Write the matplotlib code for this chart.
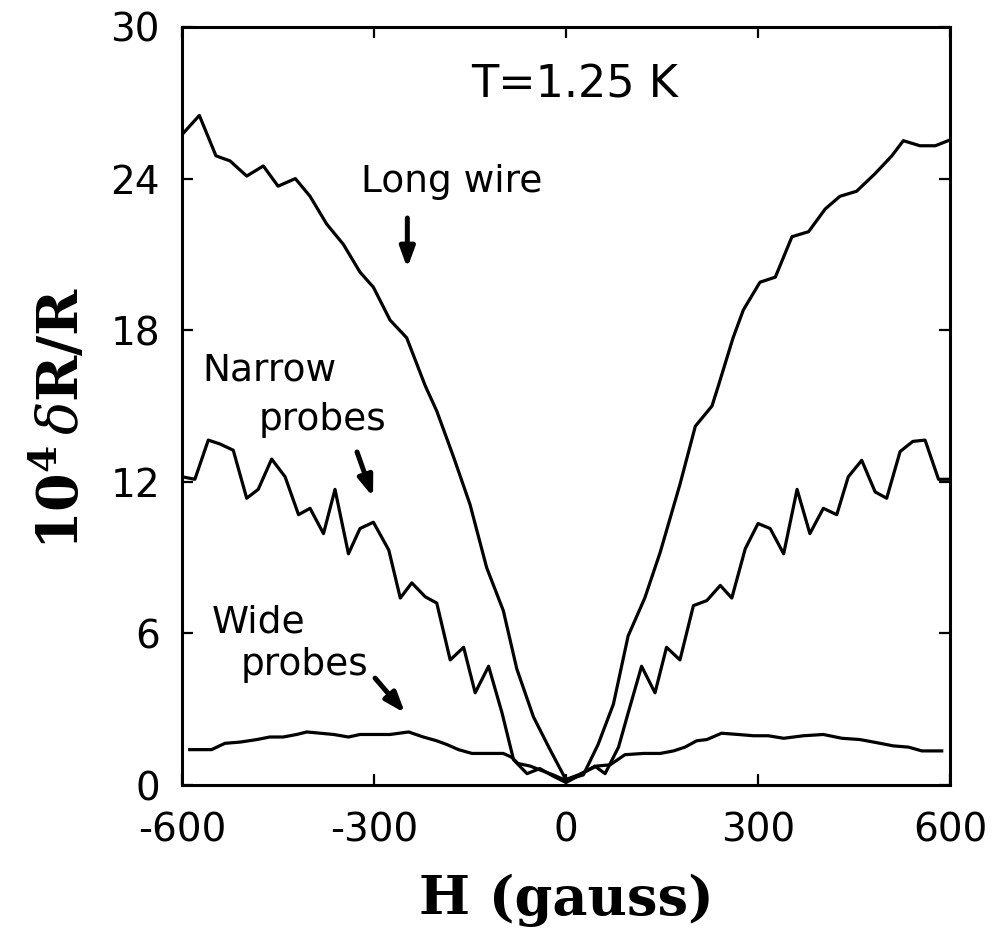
# magnetoresistance of the long wire vs. narrow / wide probes at T=1.25 K

import matplotlib
matplotlib.use("Agg")
import matplotlib.pyplot as plt

# long wire
h_long = [-598, -573, -547, -525, -499, -473, -450, -423, -400, -374, -348, -322,
          -301, -275, -249, -220, -202, -176, -150, -124, -98, -77, -51, -25, 0,
          27, 50, 74, 97, 123, 147, 178, 202, 228, 238, 261, 277, 303, 327, 353,
          379, 405, 428, 454, 483, 509, 527, 553, 577, 597]
r_long = [25.8, 26.5, 24.9, 24.7, 24.1, 24.5, 23.7, 24.0, 23.3, 22.2, 21.4, 20.3,
          19.7, 18.4, 17.7, 15.8, 14.8, 13.0, 11.1, 8.6, 6.9, 4.6, 2.7, 1.4, 0.2,
          0.4, 1.6, 3.2, 5.9, 7.4, 9.2, 11.9, 14.2, 15.0, 15.8, 17.7, 18.8, 19.9,
          20.1, 21.7, 21.9, 22.8, 23.3, 23.5, 24.2, 24.9, 25.5, 25.3, 25.3, 25.5]

# narrow probes
h_narrow = [-600, -580, -559, -541, -520, -499, -481, -460, -439, -418, -400, -379,
            -361, -340, -322, -301, -277, -259, -241, -220, -202, -181, -160, -142,
            -121, -100, -82, -61, -41, -20, 0, 22, 45, 61, 82, 97, 118, 139, 157,
            178, 199, 220, 241, 259, 280, 300, 319, 340, 361, 381, 402, 423, 441,
            462, 483, 501, 522, 542, 561, 582, 600]
r_narrow = [12.2, 12.1, 13.65, 13.5, 13.25, 11.35, 11.7, 12.9, 12.2, 10.7, 10.95,
            9.95, 11.7, 9.15, 10.15, 10.4, 9.3, 7.4, 8.0, 7.45, 7.2, 4.95, 5.45,
            3.65, 4.7, 2.85, 1.0, 0.45, 0.65, 0.35, 0.1, 0.4, 0.75, 0.45, 1.5, 2.85,
            4.7, 3.65, 5.45, 4.95, 7.1, 7.3, 7.9, 7.4, 9.35, 10.35, 10.15, 9.15,
            11.7, 9.95, 10.95, 10.7, 12.2, 12.85, 11.6, 11.35, 13.2, 13.6, 13.65,
            12.1, 12.1]

# wide probes
h_wide = [-588, -554, -533, -509, -483, -463, -442, -421, -405, -384, -363, -340,
          -322, -301, -275, -246, -223, -202, -186, -168, -147, -124, -98, -85, -75,
          -56, -41, -20, -2, 19, 48, 69, 92, 121, 147, 168, 186, 204, 220, 243, 269,
          293, 316, 340, 371, 402, 431, 459, 491, 511, 535, 556, 587]
r_wide = [1.4, 1.4, 1.65, 1.7, 1.8, 1.9, 1.9, 2.0, 2.1, 2.05, 2.0, 1.9, 2.0, 2.0,
          2.0, 2.1, 1.9, 1.75, 1.6, 1.4, 1.25, 1.25, 1.25, 1.1, 0.85, 0.75, 0.6,
          0.4, 0.2, 0.4, 0.75, 0.8, 1.2, 1.25, 1.25, 1.35, 1.5, 1.75, 1.8, 2.05,
          2.0, 1.95, 1.95, 1.85, 1.95, 2.0, 1.85, 1.8, 1.65, 1.55, 1.5, 1.35, 1.35]

x_ticks = [-600, -300, 0, 300, 600]
y_ticks = [0, 6, 12, 18, 24, 30]

plt.rcParams['mathtext.fontset'] = 'dejavuserif'

fig = plt.figure(figsize=(9.97, 9.31), dpi=100)
ax = fig.add_axes([0.1826, 0.1568, 0.7703, 0.8142])

ax.plot(h_long, r_long, color='black', lw=2.3)
ax.plot(h_narrow, r_narrow, color='black', lw=2.3)
ax.plot(h_wide, r_wide, color='black', lw=2.3)

ax.set_xlim(-600, 600)
ax.set_ylim(0, 30)
ax.set_xticks(x_ticks)
ax.set_yticks(y_ticks)
ax.set_xticklabels([str(v) for v in x_ticks])
ax.tick_params(direction='in', length=8, width=1.6, labelsize=28,
               top=True, right=True)
ax.tick_params(axis='x', pad=19)
ax.tick_params(axis='y', pad=16)
for s in ax.spines.values():
    s.set_linewidth(2.2)

ax.set_xlabel('H (gauss)', family='DejaVu Serif', weight='bold', fontsize=39)
ax.xaxis.set_label_coords(0.5, -0.117)
ax.set_ylabel(r'$\mathbf{10^4}\,\delta\mathbf{R/R}$', fontsize=40)
ax.yaxis.set_label_coords(-0.118, 0.484)

# labels and arrows
ax.text(14, 27.7, 'T=1.25 K', fontsize=32, ha='center', va='center')
ax.text(-178, 23.86, 'Long wire', fontsize=27, ha='center', va='center')
ax.text(-464, 16.42, 'Narrow', fontsize=27, ha='center', va='center')
ax.text(-381, 14.44, 'probes', fontsize=27, ha='center', va='center')
ax.text(-481, 6.45, 'Wide', fontsize=27, ha='center', va='center')
ax.text(-409, 4.75, 'probes', fontsize=27, ha='center', va='center')

arrow = dict(arrowstyle='-|>,head_length=0.6,head_width=0.22', color='black',
             lw=3.6, mutation_scale=20, shrinkA=0, shrinkB=0)
ax.annotate('', xy=(-248, 20.46), xytext=(-248, 22.44), arrowprops=arrow)
ax.annotate('', xy=(-301.6, 11.40), xytext=(-326.6, 13.18), arrowprops=arrow)
ax.annotate('', xy=(-251.6, 2.85), xytext=(-298.4, 4.23), arrowprops=arrow)

fig.savefig('out.png', dpi=100)
